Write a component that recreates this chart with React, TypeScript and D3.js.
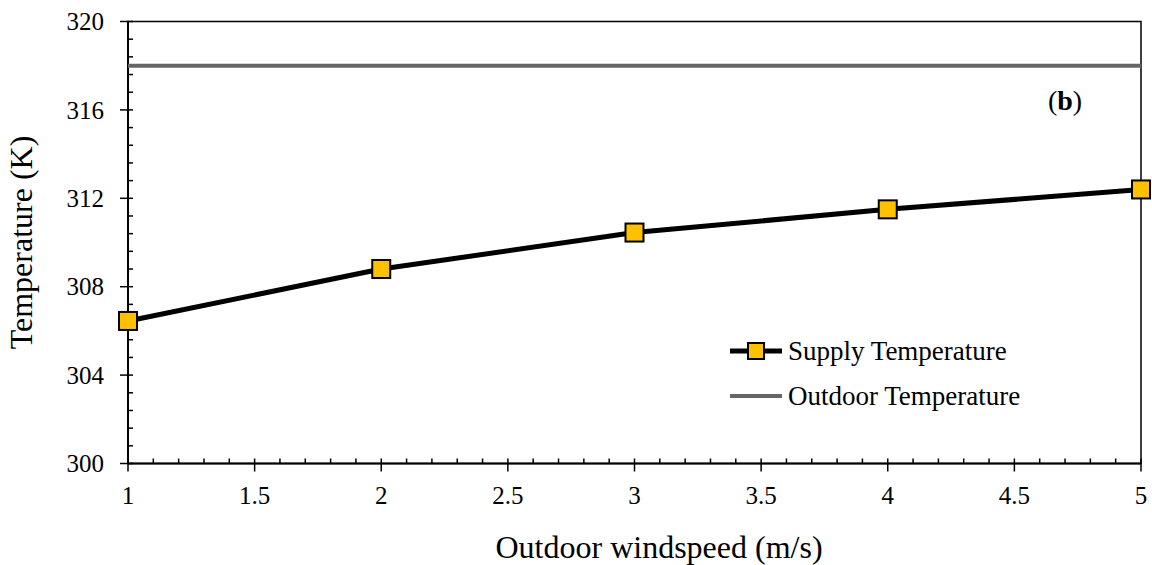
import React from "react";
import * as d3 from "d3";

const windspeed = [1, 2, 3, 4, 5];
const supplyTemp = [306.45, 308.8, 310.45, 311.5, 312.4];
const outdoorTemp = 318;
const xTicks = [1, 1.5, 2, 2.5, 3, 3.5, 4, 4.5, 5];
const yTicks = [300, 304, 308, 312, 316, 320];

const W = 1152;
const H = 565;
const m = { left: 128, right: 1141, top: 21.5, bottom: 463.5 };
const FONT = "'Liberation Serif', 'Times New Roman', serif";

export default function App() {
  const x = d3.scaleLinear().domain([1, 5]).range([m.left, m.right]);
  const y = d3.scaleLinear().domain([300, 320]).range([m.bottom, m.top]);

  const line = d3
    .line<number>()
    .x((_, i) => x(windspeed[i]))
    .y((d) => y(d));

  const xMinor = d3.range(10, 51).map((v) => v / 10).filter((v) => !xTicks.includes(v));
  const yMinor = d3.range(0, 26).map((i) => 300 + i * 0.8).filter((v) => Math.abs(v % 4) > 0.01 && Math.abs(v % 4 - 4) > 0.01 && v < 320);

  const ms = 18;

  return (
    <svg width={W} height={H} style={{ position: "absolute", left: 0, top: 0, background: "#fff" }}>
      {/* plot frame */}
      <rect x={m.left} y={m.top} width={m.right - m.left} height={m.bottom - m.top} fill="none" stroke="#000" strokeWidth={1.5} />

      {/* y ticks */}
      {yMinor.map((v) => (
        <line key={"ym" + v} x1={m.left} x2={m.left + 5} y1={y(v)} y2={y(v)} stroke="#000" strokeWidth={1.5} />
      ))}
      {yTicks.map((v) => (
        <g key={"y" + v}>
          <line x1={m.left - 8} x2={m.left + 5} y1={y(v)} y2={y(v)} stroke="#000" strokeWidth={1.5} />
          <text x={104} y={y(v)} dy="0.35em" textAnchor="end" fontFamily={FONT} fontSize={25}>
            {v}
          </text>
        </g>
      ))}

      {/* x ticks */}
      {xMinor.map((v) => (
        <line key={"xm" + v} x1={x(v)} x2={x(v)} y1={m.bottom} y2={m.bottom - 5} stroke="#000" strokeWidth={1.5} />
      ))}
      {xTicks.map((v) => (
        <g key={"x" + v}>
          <line x1={x(v)} x2={x(v)} y1={m.bottom - 5} y2={m.bottom + 8} stroke="#000" strokeWidth={1.5} />
          <text x={x(v)} y={504} textAnchor="middle" fontFamily={FONT} fontSize={25}>
            {v}
          </text>
        </g>
      ))}

      {/* axis lines */}
      <line x1={m.left} x2={m.left} y1={m.top} y2={m.bottom} stroke="#000" strokeWidth={2} />
      <line x1={m.left} x2={m.right} y1={m.bottom} y2={m.bottom} stroke="#000" strokeWidth={2} />

      {/* outdoor temperature */}
      <line x1={x(1)} x2={x(5)} y1={y(outdoorTemp)} y2={y(outdoorTemp)} stroke="#666666" strokeWidth={4} />

      {/* supply temperature */}
      <path d={line(supplyTemp) || ""} fill="none" stroke="#000" strokeWidth={5} strokeLinejoin="round" />
      {supplyTemp.map((v, i) => (
        <rect
          key={"p" + i}
          x={x(windspeed[i]) - ms / 2}
          y={y(v) - ms / 2}
          width={ms}
          height={ms}
          fill="#FFC000"
          stroke="#000"
          strokeWidth={2}
        />
      ))}

      {/* panel label */}
      <text x={1065} y={110} textAnchor="middle" fontFamily={FONT} fontSize={28}>
        (<tspan fontWeight="bold">b</tspan>)
      </text>

      {/* legend */}
      <line x1={730} x2={782} y1={351} y2={351} stroke="#000" strokeWidth={5} />
      <rect x={756 - 8} y={351 - 8} width={16} height={16} fill="#FFC000" stroke="#000" strokeWidth={2} />
      <text x={788} y={351} dy="0.35em" fontFamily={FONT} fontSize={27}>
        Supply Temperature
      </text>
      <line x1={730} x2={782} y1={396} y2={396} stroke="#666666" strokeWidth={4} />
      <text x={788} y={396} dy="0.35em" fontFamily={FONT} fontSize={27}>
        Outdoor Temperature
      </text>

      {/* axis titles */}
      <text x={659} y={558} textAnchor="middle" fontFamily={FONT} fontSize={32}>
        Outdoor windspeed (m/s)
      </text>
      <text
        transform={`translate(32, ${(m.top + m.bottom) / 2}) rotate(-90)`}
        textAnchor="middle"
        fontFamily={FONT}
        fontSize={32}
      >
        Temperature (K)
      </text>
    </svg>
  );
}
